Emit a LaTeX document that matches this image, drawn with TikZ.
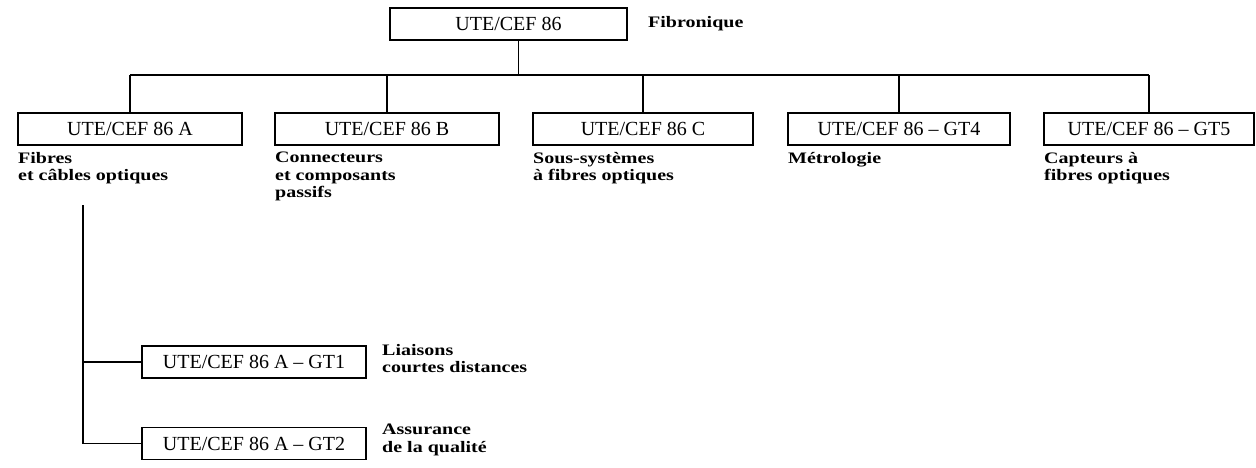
\documentclass[tikz,border=0pt]{standalone}
\usepackage{fontspec}
\setmainfont{Liberation Serif}
\newfontfamily\lblfont[FakeStretch=1.25]{Liberation Serif}
\begin{document}
\begin{tikzpicture}[x=1pt,y=-1pt,
  box/.style={draw,line width=1.5pt,minimum height=32pt,inner sep=0pt,font=\fontsize{20}{22}\selectfont},
  lbl/.style={anchor=north west,inner sep=0pt,align=left,font=\lblfont\bfseries\fontsize{16}{17.5}\selectfont},
  conn/.style={line width=1.5pt}]
\useasboundingbox (0,0) rectangle (1256,468);
% top
\node[box,minimum width=237pt] (top) at (508.5,24) {UTE/CEF 86};
\node[lbl,anchor=west] (fib) at (648,24) {Fibronique};
% row
\node[box,minimum width=224pt] (a) at (130,129) {UTE/CEF 86 A};
\node[box,minimum width=224pt] (b) at (387,129) {UTE/CEF 86 B};
\node[box,minimum width=220pt] (c) at (643,129) {UTE/CEF 86 C};
\node[box,minimum width=222pt] (d) at (899,129) {UTE/CEF 86 -- GT4};
\node[box,minimum width=210pt] (e) at (1149,129) {UTE/CEF 86 -- GT5};
% bus
\coordinate (bus) at (0,75);
\draw[conn] ([xshift=10pt]top.south) -- ([xshift=10pt]top.south |- bus);
\draw[conn] (a.north |- bus) -- (e.north |- bus);
\foreach \n in {a,b,c,d,e} \draw[conn] (\n.north) -- (\n.north |- bus);
% labels
\node[lbl] (la) at (18,152) {Fibres\\et câbles optiques};
\node[lbl] (lb) at (275,152) {Connecteurs\\et composants\\passifs};
\node[lbl] (lc) at (533,152) {Sous-systèmes\\à fibres optiques};
\node[lbl] (ld) at (788,152) {Métrologie};
\node[lbl] (le) at (1044,152) {Capteurs à\\fibres optiques};
% sub tree
\node[box,minimum width=224pt] (g1) at (254,362) {UTE/CEF 86 A -- GT1};
\node[box,minimum width=224pt] (g2) at (254,443.5) {UTE/CEF 86 A -- GT2};
\node[lbl] (l1) at (382,344) {Liaisons\\courtes distances};
\node[lbl] (l2) at (382,424) {Assurance\\de la qualité};
\coordinate (stemtop) at (83,205);
\coordinate (stembot) at (83,443.5);
\draw[conn] (stemtop) -- (stembot);
\draw[conn] (g1.west) -- (g1.west -| stemtop);
\draw[conn] (g2.west) -- (stembot);
\end{tikzpicture}
\end{document}
